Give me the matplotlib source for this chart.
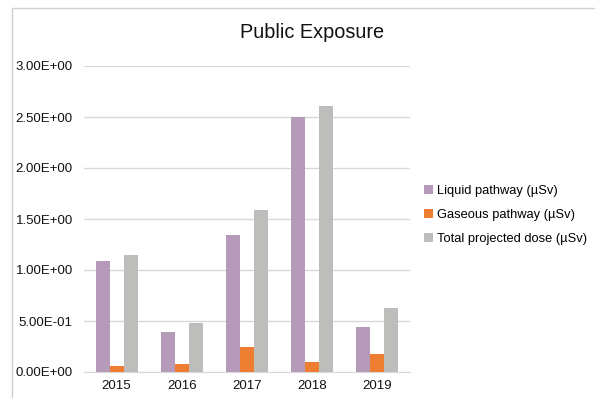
import matplotlib.pyplot as plt
from matplotlib.patches import Rectangle
from matplotlib.ticker import FuncFormatter, MultipleLocator
import numpy as np

plt.rcParams['font.family'] = ['Liberation Sans', 'DejaVu Sans']

years = ['2015', '2016', '2017', '2018', '2019']
liquid = [1.09, 0.39, 1.34, 2.50, 0.44]
gaseous = [0.055, 0.08, 0.25, 0.10, 0.175]
total = [1.15, 0.48, 1.59, 2.61, 0.625]
series_names = ['Liquid pathway (µSv)', 'Gaseous pathway (µSv)', 'Total projected dose (µSv)']
colors = ['#b59ab9', '#ed7d31', '#bdbdbb']

fig = plt.figure(figsize=(5.95, 3.98), dpi=100)

# chart frame (runs off the right and bottom of the image)
fig.patches.append(Rectangle((12 / 595, -0.1), 1.2, 1 - 8 / 398 + 0.1,
                             transform=fig.transFigure, fill=False,
                             edgecolor='#d0d0d0', linewidth=1.0))

ax = fig.add_axes([84 / 595, 26 / 398, 326 / 595, 306 / 398])

x = np.arange(len(years))
w = 0.215
for i, (vals, name, c) in enumerate(zip([liquid, gaseous, total], series_names, colors)):
    ax.bar(x + (i - 1) * w, vals, width=w, color=c, label=name, zorder=3)

ax.set_xlim(-0.5, len(years) - 0.5)
ax.set_ylim(0, 3.0)
ax.yaxis.set_major_locator(MultipleLocator(0.5))
ax.yaxis.set_major_formatter(FuncFormatter(lambda v, p: f'{v:.2E}'))
ax.set_xticks(x)
ax.set_xticklabels(years)
ax.grid(axis='y', color='#d9d9d9', linewidth=1.0, zorder=0)
ax.tick_params(axis='both', length=0, labelsize=9.5, colors='#111111')
ax.tick_params(axis='x', pad=6)
ax.tick_params(axis='y', pad=8)
for s in ['top', 'right', 'left']:
    ax.spines[s].set_visible(False)
ax.spines['bottom'].set_color('#d9d9d9')

fig.text(312 / 595, 1 - 33 / 398, 'Public Exposure', ha='center', va='center',
         fontsize=14.3, color='#111111')

fig.legend(loc='center left', bbox_to_anchor=(412 / 595, 1 - 215 / 398),
           frameon=False, fontsize=9.3, handlelength=0.7, handleheight=0.7,
           handletextpad=0.3, labelspacing=0.9)

fig.savefig('out.png', dpi=100)
